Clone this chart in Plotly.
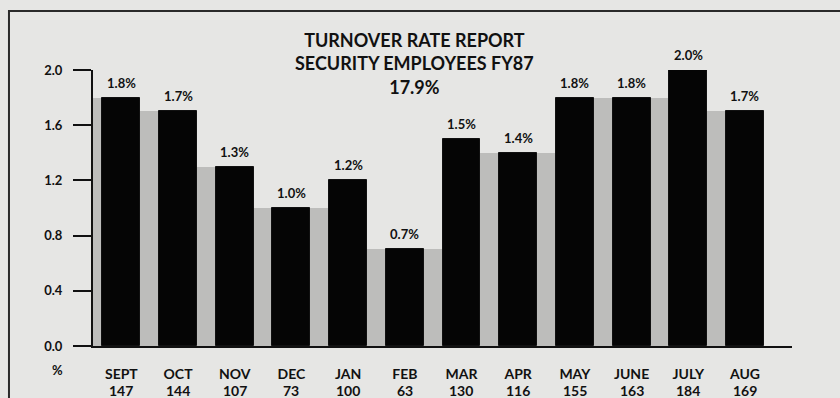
import plotly.graph_objects as go

# Monthly turnover rate (%) and number of separations, FY87
months = ["SEPT", "OCT", "NOV", "DEC", "JAN", "FEB", "MAR", "APR", "MAY", "JUNE", "JULY", "AUG"]
rates = [1.8, 1.7, 1.3, 1.0, 1.2, 0.7, 1.5, 1.4, 1.8, 1.8, 2.0, 1.7]
counts = [147, 144, 107, 73, 100, 63, 130, 116, 155, 163, 184, 169]
y_ticks = [0.0, 0.4, 0.8, 1.2, 1.6, 2.0]
title_lines = ["TURNOVER RATE REPORT", "SECURITY EMPLOYEES FY87", "17.9%"]

INK = "#111111"
PAPER = "#e6e6e4"
SHADE = "#bdbdbb"
FONT = "Lato"
BAR_W = 0.67

x = list(range(len(months)))

fig = go.Figure()

# grey fill in the narrow channels between neighbouring bars
gap_x = [-0.5 + (1 - BAR_W) / 4] + [i + 0.5 for i in x[:-1]]
gap_w = [(1 - BAR_W) / 2] + [1 - BAR_W] * (len(x) - 1)
gap_h = [rates[0]] + [min(a, b) for a, b in zip(rates[:-1], rates[1:])]
fig.add_trace(go.Bar(
    x=gap_x, y=gap_h, width=gap_w,
    marker=dict(color=SHADE, line=dict(width=0)),
    hoverinfo="skip", showlegend=False,
))

fig.add_trace(go.Bar(
    x=x, y=rates, width=BAR_W,
    marker=dict(color="#050505", line=dict(color=INK, width=1)),
    showlegend=False, cliponaxis=False,
))

bold = dict(family=FONT, color=INK, weight="bold")

annotations = []
# value labels above each bar
for xi, r in zip(x, rates):
    annotations.append(dict(
        x=xi, y=r, xref="x", yref="y", text=f"{r:.1f}%", showarrow=False,
        yanchor="bottom", yshift=5, font=dict(size=13, **bold),
    ))
# separation counts under month names
for xi, c in zip(x, counts):
    annotations.append(dict(
        x=xi, y=0, xref="x", yref="y", text=str(c), showarrow=False,
        yanchor="middle", yshift=-44, font=dict(size=14, **bold),
    ))
# unit marker in the month row
annotations.append(dict(
    x=-0.0515, y=-0.087, xref="paper", yref="paper", text="%", showarrow=False,
    xanchor="center", yanchor="middle", font=dict(size=13, **bold),
))
# chart heading
annotations.append(dict(
    x=0.46, y=1.0, xref="paper", yref="paper", text="<br>".join(title_lines),
    showarrow=False, xanchor="center", yanchor="bottom", yshift=-30,
    font=dict(size=18, **bold),
))

fig.update_layout(
    width=840, height=398,
    margin=dict(l=93, r=48, t=70, b=52),
    paper_bgcolor=PAPER, plot_bgcolor=PAPER,
    barmode="overlay", bargap=0,
    font=dict(family=FONT, color=INK),
    annotations=annotations,
    shapes=[dict(
        type="rect", xref="paper", yref="paper",
        x0=-0.1202, x1=1.09, y0=-0.25, y1=1.2138,
        line=dict(color="#2a2a2a", width=2), fillcolor="rgba(0,0,0,0)", layer="below",
    )],
)

fig.update_xaxes(
    range=[-0.5, 11.83], tickmode="array", tickvals=x, ticktext=months,
    showgrid=False, zeroline=False, showline=True, linecolor=INK, linewidth=2,
    ticks="", ticklabelstandoff=14, tickfont=dict(size=14, **bold),
)
fig.update_yaxes(
    range=[0, 2.0], tickmode="array", tickvals=y_ticks,
    ticktext=[f"{v:.1f}" for v in y_ticks],
    showgrid=False, zeroline=False, showline=True, linecolor=INK, linewidth=2,
    ticks="outside", ticklen=18, tickwidth=2, tickcolor=INK, ticklabelstandoff=8,
    tickfont=dict(size=13, **bold),
)

fig.write_html("out.html")
